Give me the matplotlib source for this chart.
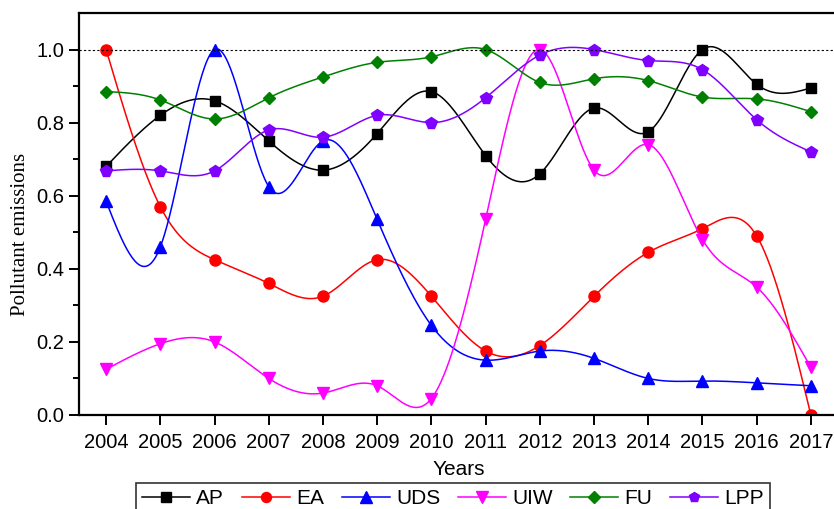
#!/usr/bin/env python
# -*- coding: utf-8 -*-

import matplotlib
matplotlib.use("Agg")
import matplotlib.pyplot as plt
import numpy as np

plt.rcParams.update({
	'font.size': 14.5,
	'font.family': 'Liberation Sans',
	'axes.linewidth': 1.6})

years = np.arange(2004, 2018)

ap  = [0.68, 0.82, 0.86, 0.75, 0.67, 0.77, 0.885, 0.71, 0.66, 0.84, 0.775, 1.0, 0.905, 0.895]
ea  = [1.0, 0.57, 0.425, 0.36, 0.325, 0.425, 0.325, 0.175, 0.19, 0.325, 0.445, 0.51, 0.49, 0.0]
uds = [0.585, 0.46, 1.0, 0.625, 0.75, 0.535, 0.245, 0.15, 0.175, 0.155, 0.1, 0.093, 0.088, 0.08]
uiw = [0.125, 0.195, 0.2, 0.1, 0.06, 0.08, 0.045, 0.535, 1.0, 0.67, 0.74, 0.48, 0.35, 0.13]
fu  = [0.885, 0.862, 0.81, 0.868, 0.925, 0.965, 0.98, 1.0, 0.91, 0.92, 0.915, 0.87, 0.865, 0.83]
lpp = [0.668, 0.668, 0.668, 0.78, 0.76, 0.82, 0.80, 0.868, 0.985, 1.0, 0.97, 0.945, 0.808, 0.72]

series = [
	("AP", ap, "black", "s", 7.5),
	("EA", ea, "red", "o", 8),
	("UDS", uds, "blue", "^", 9),
	("UIW", uiw, "magenta", "v", 9),
	("FU", fu, "green", "D", 6.5),
	("LPP", lpp, "#8000ff", "p", 8.5)]


def natural_spline(x, y, n=40):
	# plain natural cubic spline, only used to draw the connecting curve
	x = np.asarray(x, float)
	y = np.asarray(y, float)
	k = len(x)
	h = np.diff(x)
	A = np.zeros((k, k))
	b = np.zeros(k)
	A[0, 0] = A[-1, -1] = 1
	for i in range(1, k - 1):
		A[i, i-1] = h[i-1]
		A[i, i] = 2*(h[i-1] + h[i])
		A[i, i+1] = h[i]
		b[i] = 6*((y[i+1]-y[i])/h[i] - (y[i]-y[i-1])/h[i-1])
	m = np.linalg.solve(A, b)
	xs, ys = [], []
	for i in range(k - 1):
		t = np.linspace(x[i], x[i+1], n, endpoint=False)
		a = x[i+1] - t
		c = t - x[i]
		s = (m[i]*a**3 + m[i+1]*c**3)/(6*h[i]) \
			+ (y[i]/h[i] - m[i]*h[i]/6)*a + (y[i+1]/h[i] - m[i+1]*h[i]/6)*c
		xs.append(t)
		ys.append(s)
	xs.append([x[-1]])
	ys.append([y[-1]])
	return np.concatenate(xs), np.concatenate(ys)


fig = plt.figure(figsize=(8.34, 5.09), dpi=100)
ax = fig.add_axes([79/834, 1-415/509, (838-79)/834, (415-13)/509])

handles = []
for name, vals, col, mk, ms in series:
	sx, sy = natural_spline(years, vals)
	ax.plot(sx, sy, color=col, lw=1.1)
	ax.plot(years, vals, ls="none", marker=mk, color=col, ms=ms)
	h, = ax.plot([], [], color=col, lw=1.1, marker=mk, ms=ms*0.9, label=name)
	handles.append(h)

ax.axhline(1.0, color="black", ls=(0, (2, 2)), lw=0.8)

ax.set_xlim(2003.5, 2017.5)
ax.set_ylim(0, 1.1)
ax.set_xticks(years)
ax.set_yticks(np.arange(0, 1.01, 0.2))
ax.set_yticks(np.arange(0.1, 1.1, 0.2), minor=True)
ax.yaxis.set_major_formatter(plt.FuncFormatter(lambda v, p: "%.1f" % v))
ax.tick_params(axis="both", direction="out", length=7, width=1.4, labelsize=14.5)
ax.tick_params(axis="y", which="minor", direction="out", length=4, width=1.4)
ax.tick_params(axis="x", pad=6)
ax.spines["right"].set_visible(False)

ax.set_xlabel("Years", fontsize=15, labelpad=6)
ax.set_ylabel("Pollutant emissions", fontsize=15, family="Liberation Serif")
ax.yaxis.set_label_coords(-0.064, 0.45)

leg = fig.legend(handles=handles, loc="upper left", bbox_to_anchor=(136/834, 1-483/509),
	ncol=6, frameon=True, fancybox=False, edgecolor="black", handlelength=2.3,
	columnspacing=0.85, handletextpad=0.3, borderpad=0.3, borderaxespad=0.0, fontsize=15)
leg.get_frame().set_linewidth(1.2)

fig.savefig("out.png", dpi=100)
